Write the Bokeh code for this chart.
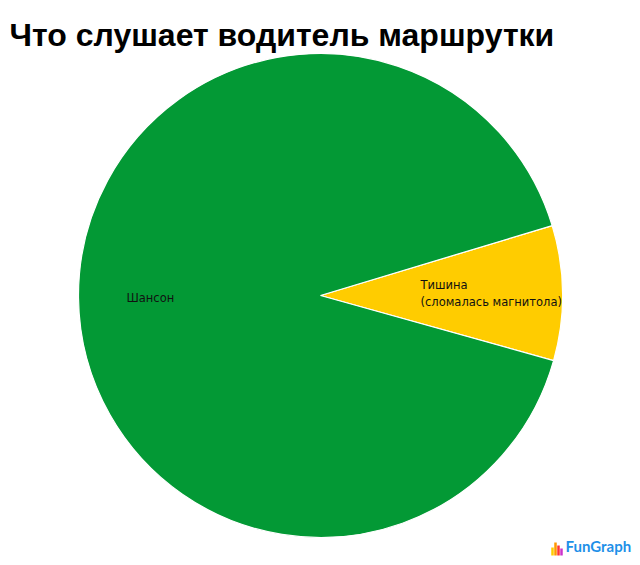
import math
from bokeh.plotting import figure
from bokeh.models import ColumnDataSource, Range1d
from bokeh.core.properties import value
from bokeh.embed import file_html
from bokeh.resources import INLINE

title_text = "Что слушает водитель маршрутки"
categories = ["Тишина\n(сломалась магнитола)", "Шансон"]
values = [9, 91]
colors = ["#FFCC00", "#039935"]

W, H = 640, 565
p = figure(width=W, height=H, output_backend="svg", toolbar_location=None,
           x_range=Range1d(0, W), y_range=Range1d(0, H), min_border=0)
p.axis.visible = False
p.grid.visible = False
p.outline_line_color = None
p.background_fill_color = "white"
p.border_fill_color = "white"

cx, cy, r = 320, H - 295, 242
start0 = math.radians(-15.6)
total = sum(values)
starts, ends = [], []
a = start0
for v in values:
    starts.append(a)
    a += v / total * 2 * math.pi
    ends.append(a)

src = ColumnDataSource(dict(start=starts, end=ends, color=colors, cat=categories))
p.wedge(x=cx, y=cy, radius=r, start_angle="start", end_angle="end",
        fill_color="color", line_color="white", line_width=1.2, source=src)

# labels
lx = [420, 126]
ly = [H - 293, H - 297]
p.text(x=lx, y=ly, text=categories, text_font=value("DejaVu Sans"),
       text_font_size="11.5px", text_color="#111111", text_baseline="middle",
       text_align="left", text_line_height=1.15)

# title
p.text(x=[9], y=[H - 34], text=[title_text], text_font=value("Liberation Sans"),
       text_font_style="bold", text_font_size="32px", text_color="black",
       text_baseline="alphabetic")

# logo
bar_cols = ["#FFCC00", "#FF9900", "#FF3333", "#CC33CC"]
bar_h = [8, 13, 10, 7]
p.vbar(x=[552 + i * 3 for i in range(4)], width=2.5, bottom=H - 555,
       top=[H - 555 + h for h in bar_h], fill_color=bar_cols, line_color=None)
p.text(x=[565], y=[H - 554], text=["FunGraph"], text_font=value("Lato"),
       text_font_style="bold", text_font_size="15px", text_color="#1E90E8",
       text_baseline="bottom")

open("out.html", "w").write(file_html(p, INLINE))
